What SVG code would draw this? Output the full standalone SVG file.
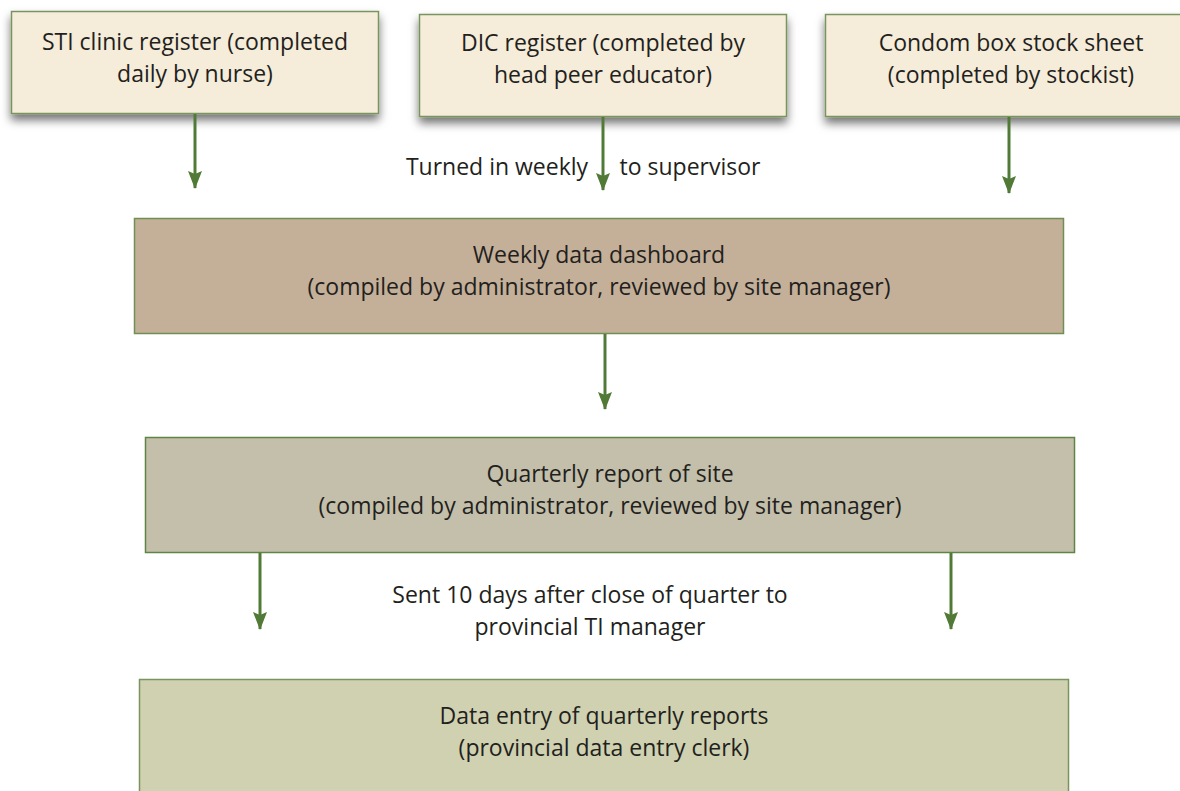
<svg xmlns="http://www.w3.org/2000/svg" width="1180" height="791" viewBox="0 0 1180 791">
<style>
text{font-family:"Open Sans","Noto Sans",sans-serif;font-size:23px;fill:#231f20;text-anchor:middle}
.src{fill:#f5ecd9;stroke:#7a9460;stroke-width:1.5}
.wk{fill:#c4b099;stroke:#6f8f55;stroke-width:1.5}
.qt{fill:#c3bfaa;stroke:#5f8545;stroke-width:1.5}
.de{fill:#cfd1b0;stroke:#7a9460;stroke-width:1.5}
.arr{stroke:#507a36;stroke-width:3;fill:none;marker-end:url(#ah)}
</style>
<defs>
<filter id="sh" x="-10%" y="-20%" width="120%" height="160%">
<feDropShadow dx="0" dy="6" stdDeviation="5" flood-color="#000" flood-opacity="0.55"/>
</filter>
<marker id="ah" markerUnits="userSpaceOnUse" markerWidth="18" markerHeight="14" refX="17" refY="7" orient="auto" viewBox="0 0 18 14">
<path d="M0,0 L3,7 L0,14 L18,7 Z" fill="#507a36"/>
</marker>
</defs>
<rect width="1180" height="791" fill="#fff"/>
<g id="sti"><rect class="src" x="11.5" y="11.5" width="367" height="102" filter="url(#sh)"/>
<text x="195" y="50">STI clinic register (completed</text><text x="195" y="82">daily by nurse)</text></g>
<g id="dic"><rect class="src" x="419.5" y="14.5" width="367" height="102" filter="url(#sh)"/>
<text x="603" y="51">DIC register (completed by</text><text x="603" y="83">head peer educator)</text></g>
<g id="condom"><rect class="src" x="825.5" y="14.5" width="370" height="102" filter="url(#sh)"/>
<text x="1011" y="51">Condom box stock sheet</text><text x="1011" y="83">(completed by stockist)</text></g>
<g id="weekly"><rect class="wk" x="134.5" y="218.5" width="929" height="115"/>
<text x="599" y="263">Weekly data dashboard</text><text x="599" y="295">(compiled by administrator, reviewed by site manager)</text></g>
<g id="quarterly"><rect class="qt" x="145.5" y="437.5" width="929" height="115"/>
<text x="610" y="482">Quarterly report of site</text><text x="610" y="514">(compiled by administrator, reviewed by site manager)</text></g>
<g id="dataentry"><rect class="de" x="139.5" y="679.5" width="929" height="130"/>
<text x="604" y="724">Data entry of quarterly reports</text><text x="604" y="756">(provincial data entry clerk)</text></g>
<g id="connectors">
<line class="arr" x1="195" y1="114" x2="195" y2="188"/>
<line class="arr" x1="603" y1="117" x2="603" y2="190"/>
<line class="arr" x1="1009" y1="117" x2="1009" y2="193"/>
<line class="arr" x1="605" y1="334" x2="605" y2="409"/>
<line class="arr" x1="260" y1="553" x2="260" y2="629"/>
<line class="arr" x1="951" y1="553" x2="951" y2="629"/>
<text x="497" y="175">Turned in weekly</text>
<text x="690" y="175">to supervisor</text>
<text x="590" y="603">Sent 10 days after close of quarter to</text>
<text x="590" y="635">provincial TI manager</text>
</g>
</svg>
